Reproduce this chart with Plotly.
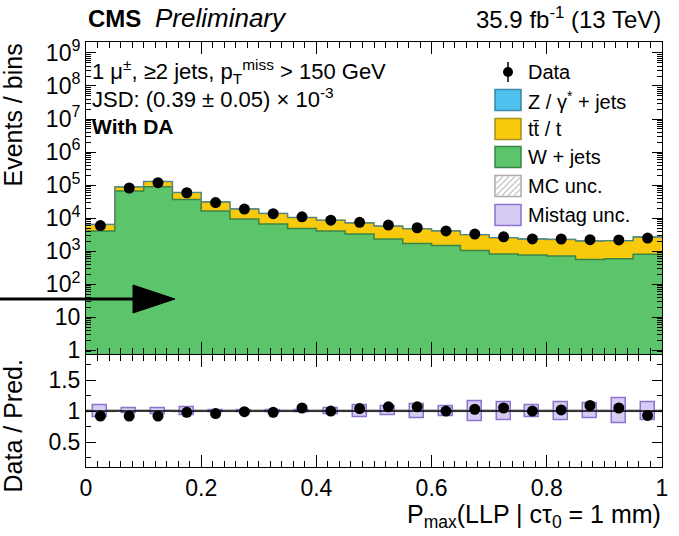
import plotly.graph_objects as go

# ---------------- data ----------------
bin_centers = [0.025, 0.075, 0.125, 0.175, 0.225, 0.275, 0.325, 0.375, 0.425, 0.475,
               0.525, 0.575, 0.625, 0.675, 0.725, 0.775, 0.825, 0.875, 0.925, 0.975]
bin_width = 0.05

w_jets = [4100, 66000, 89000, 37000, 16600, 9500, 6700, 4900, 4100, 3300,
          2350, 1700, 1500, 1050, 830, 770, 720, 560, 590, 810]
tt_t = [2340, 22400, 39100, 22600, 14200, 9380, 7210, 5530, 4540, 3850,
        3410, 3065, 2600, 2125, 1750, 1562, 1563, 1475, 1495, 1870]
z_jets = [60, 600, 900, 400, 200, 120, 90, 70, 60, 50,
          40, 35, 30, 25, 20, 18, 17, 15, 15, 20]
data = [5980, 81900, 118700, 58800, 29760, 18810, 13720, 11025, 8700, 7490,
        6206, 5136, 4130, 3296, 2730, 2350, 2346, 2235, 2205, 2511]
mistag_unc = [0.093, 0.040, 0.045, 0.066, 0.020, 0.010, 0.020, 0.020, 0.053, 0.098,
              0.071, 0.114, 0.079, 0.160, 0.145, 0.098, 0.145, 0.120, 0.200, 0.140]
mc_unc = [0.015, 0.008, 0.008, 0.010, 0.010, 0.010, 0.012, 0.012, 0.012, 0.015,
          0.015, 0.015, 0.018, 0.018, 0.018, 0.020, 0.020, 0.020, 0.020, 0.020]

y_tickvals = [1, 10, 1e2, 1e3, 1e4, 1e5, 1e6, 1e7, 1e8, 1e9]
y_ticktext = ["1", "10"] + ["10<sup>%d</sup>" % k for k in range(2, 10)]
r_tickvals = [0.5, 1, 1.5]
r_ticktext = ["0.5", "1", "1.5"]

# ---------------- derived ----------------
s_w = w_jets
s_wt = [a + b for a, b in zip(w_jets, tt_t)]
s_all = [a + b for a, b in zip(s_wt, z_jets)]
ratio = [d / t for d, t in zip(data, s_all)]
edges = [c - bin_width / 2 for c in bin_centers] + [bin_centers[-1] + bin_width / 2]

GREEN, GREEN_L = "#5cc46b", "#3b8447"
YEL, YEL_L = "#f9ca0c", "#a8901a"
BLUE, BLUE_L = "#4fc1ee", "#3a88a8"
PURP_F, PURP_L = "#d6cbf2", "#8f73d0"
FONT = "Liberation Sans, Arial, Helvetica, sans-serif"

fig = go.Figure()

fig.add_trace(go.Bar(x=bin_centers, y=w_jets, width=bin_width, marker=dict(color=GREEN, line=dict(width=0)),
                     xaxis="x", yaxis="y", showlegend=False))
fig.add_trace(go.Bar(x=bin_centers, y=tt_t, base=s_w, width=bin_width, marker=dict(color=YEL, line=dict(width=0)),
                     xaxis="x", yaxis="y", showlegend=False))
fig.add_trace(go.Bar(x=bin_centers, y=z_jets, base=s_wt, width=bin_width, marker=dict(color=BLUE, line=dict(width=0)),
                     xaxis="x", yaxis="y", showlegend=False))
for vals, col, wd in [(s_w, GREEN_L, 1.5), (s_wt, YEL_L, 1.5), (s_all, BLUE_L, 1.0)]:
    fig.add_trace(go.Scatter(x=edges, y=vals + [vals[-1]], mode="lines", line=dict(color=col, width=wd, shape="hv"),
                             xaxis="x", yaxis="y", showlegend=False, hoverinfo="skip"))
fig.add_trace(go.Scatter(x=bin_centers, y=data, mode="markers", marker=dict(color="black", size=11),
                         xaxis="x", yaxis="y", showlegend=False))

fig.add_trace(go.Bar(x=bin_centers, y=[2 * u for u in mc_unc], base=[1 - u for u in mc_unc], width=bin_width,
                     marker=dict(color="white", line=dict(color="#b0b0b0", width=1),
                                 pattern=dict(shape="/", fgcolor="#c0c0c0", size=5)),
                     xaxis="x2", yaxis="y2", showlegend=False))
fig.add_trace(go.Bar(x=bin_centers, y=[2 * u for u in mistag_unc], base=[1 - u for u in mistag_unc],
                     width=bin_width * 0.48,
                     marker=dict(color=PURP_F, line=dict(color=PURP_L, width=1.5)),
                     xaxis="x2", yaxis="y2", showlegend=False))
fig.add_shape(type="line", xref="x2 domain", yref="y2", x0=0, x1=1, y0=1, y1=1,
              line=dict(color="black", width=1.5))
fig.add_trace(go.Scatter(x=bin_centers, y=ratio, mode="markers", marker=dict(color="black", size=11),
                         xaxis="x2", yaxis="y2", showlegend=False))

W, H = 679, 536
PL, PR, PT, PB = 86, 662, 42, 467
ML, MT, MR, MB = PL, PT, W - PR, H - PB
PW, PH = PR - PL, PB - PT


def px(x):
    return (x - PL) / PW


def py(y):
    return (PB - y) / PH


axis_common = dict(showgrid=False, zeroline=False, showline=True, linecolor="black", linewidth=1,
                   mirror="ticks", ticks="inside", tickcolor="black",
                   tickfont=dict(family=FONT, size=23, color="black"))

fig.update_layout(
    width=W, height=H, margin=dict(l=ML, r=MR, t=MT, b=MB, autoexpand=False),
    paper_bgcolor="white", plot_bgcolor="white", barmode="overlay", bargap=0,
    showlegend=False, font=dict(family=FONT, color="black"),
    xaxis=dict(axis_common, domain=[0, 1], anchor="y", range=[0, 1], dtick=0.2, tick0=0, ticklen=12,
               showticklabels=False, matches="x2",
               minor=dict(ticks="inside", dtick=0.02, ticklen=6, tickcolor="black")),
    yaxis=dict(axis_common, domain=[0.265, 1], anchor="x", type="log", range=[-0.12, 9.33],
               tickmode="array", tickvals=y_tickvals, ticktext=y_ticktext, ticklen=10,
               minor=dict(ticks="inside", ticklen=5, tickcolor="black",
                          tickvals=[m * 10 ** d for d in range(-1, 10) for m in range(2, 10)])),
    xaxis2=dict(axis_common, domain=[0, 1], anchor="y2", range=[0, 1], dtick=0.2, tick0=0, ticklen=12,
                minor=dict(ticks="inside", dtick=0.02, ticklen=6, tickcolor="black")),
    yaxis2=dict(axis_common, domain=[0, 0.263], anchor="x2", range=[0.1, 1.9],
                tickmode="array", tickvals=r_tickvals, ticktext=r_ticktext, ticklen=10,
                minor=dict(ticks="inside", ticklen=5, tickcolor="black", tickvals=[0.25, 0.75, 1.25, 1.75])),
)

ann = []


def text(x, y, s, size, xanchor="left", yanchor="middle", angle=0):
    ann.append(dict(x=px(x), y=py(y), xref="paper", yref="paper", text=s, showarrow=False,
                    xanchor=xanchor, yanchor=yanchor, textangle=angle,
                    font=dict(family=FONT, size=size, color="black")))


text(86, 18, "<b>CMS</b>", 24)
text(153, 18, "<i>Preliminary</i>", 26)
text(663, 18, "35.9 fb<sup>-1</sup> (13 TeV)", 24, xanchor="right")
text(90, 71, "1 μ<sup>±</sup>, ≥2 jets, p<sub>T</sub><sup>miss</sup> > 150 GeV", 22)
text(90, 98, "JSD: (0.39 ± 0.05) × 10<sup>-3</sup>", 22)
text(90, 126, "<b>With DA</b>", 21)
text(12, 42, "Events / bins", 25, xanchor="center", yanchor="top", angle=-90)
text(12, 358, "Data / Pred.", 25, xanchor="center", yanchor="top", angle=-90)
text(663, 516, "P<sub>max</sub>(LLP | cτ<sub>0</sub> = 1 mm)", 25, xanchor="right")

# legend (manual)
leg_labels = ["Data", "Z / γ<sup>*</sup> + jets", "tt̄ / t", "W + jets", "MC unc.", "Mistag unc."]
leg_y = [72, 100, 129, 157, 186, 215]
shapes = []
bx0, bx1, bh = 495, 521, 10.5
for lab, yy in zip(leg_labels, leg_y):
    text(526, yy, lab, 20)
shapes.append(dict(type="line", xref="paper", yref="paper", x0=px(508), x1=px(508), y0=py(62), y1=py(82),
                   line=dict(color="black", width=1.5)))
shapes.append(dict(type="circle", xref="paper", yref="paper", x0=px(503), x1=px(513), y0=py(67), y1=py(77),
                   fillcolor="black", line=dict(color="black", width=0)))
for yy, fc, lc in [(100, BLUE, BLUE_L), (129, YEL, YEL_L), (157, GREEN, GREEN_L), (186, "white", "#aaaaaa"),
                   (215, PURP_F, PURP_L)]:
    shapes.append(dict(type="rect", xref="paper", yref="paper", x0=px(bx0), x1=px(bx1),
                       y0=py(yy + bh), y1=py(yy - bh), fillcolor=fc, line=dict(color=lc, width=1.5)))
yy = 186
for k in range(-3, 5):
    xa = bx0 + 1 + k * 6
    x_start, y_start = xa, yy + bh - 1
    x_end, y_end = xa + 2 * bh - 2, yy - bh + 1
    if x_start < bx0 + 1:
        d = bx0 + 1 - x_start
        x_start += d
        y_start -= d
    if x_end > bx1 - 1:
        d = x_end - (bx1 - 1)
        x_end -= d
        y_end += d
    if x_end > x_start:
        shapes.append(dict(type="line", xref="paper", yref="paper", x0=px(x_start), y0=py(y_start),
                           x1=px(x_end), y1=py(y_end), line=dict(color="#c8c8c8", width=1.5)))

# arrow
shapes.append(dict(type="line", xref="paper", yref="paper", x0=px(0), x1=px(135), y0=py(299), y1=py(299),
                   line=dict(color="black", width=3)))
shapes.append(dict(type="path", xref="paper", yref="paper",
                   path="M %f %f L %f %f L %f %f Z" % (px(133), py(285), px(133), py(313), px(175), py(299)),
                   fillcolor="black", line=dict(color="black", width=1)))

fig.update_layout(annotations=ann, shapes=list(fig.layout.shapes) + shapes)
fig.write_html("out.html", config={"displayModeBar": False},
               post_script="document.body.style.margin='0';document.body.style.padding='0';")
